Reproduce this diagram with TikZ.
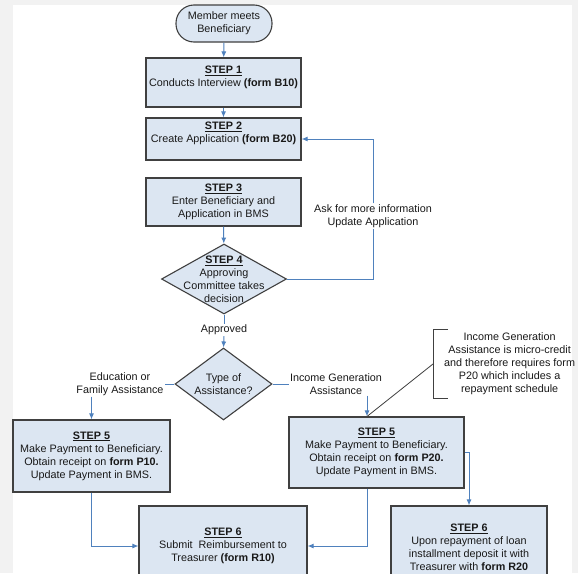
\documentclass[tikz,border=0pt]{standalone}
\usepackage{fontspec}
\setmainfont{Liberation Sans}
\usetikzlibrary{shapes.geometric}
\usetikzlibrary{arrows.meta}
\usetikzlibrary{calc}

\definecolor{boxfill}{HTML}{DCE6F2}
\definecolor{boxline}{HTML}{404040}
\definecolor{flowblue}{HTML}{4F81BD}
\definecolor{pagegray}{HTML}{F2F2F2}

\begin{document}
\begin{tikzpicture}[x=1pt, y=-1pt,
  every node/.style={font=\fontsize{10.8}{13}\selectfont, align=center, text=black!90},
  stepbox/.style={draw=boxline, fill=boxfill, line width=1.1pt, minimum width=155pt, inner sep=2pt},
  decision/.style={diamond, draw=boxline, fill=boxfill, line width=1.1pt, inner sep=0pt},
  flow/.style={draw=flowblue, line width=1pt, -{Latex[length=6pt,width=5pt]}},
  link/.style={draw=flowblue, line width=1pt},
  notebr/.style={draw=boxline, line width=0.8pt},
  tag/.style={fill=white, inner sep=1pt}]

  %page
  \useasboundingbox (0,0) rectangle (578,573);
  \fill[pagegray] (0,0) rectangle (578,573);
  \fill[white] (13,5) rectangle (572,573);

  %main column
  \node[stepbox, rounded corners=18pt, minimum width=96pt, minimum height=37pt] (start) at (224,23.5) {Member meets\\Beneficiary};
  \node[stepbox, minimum height=49pt] (step1) at (223.5,82.5) {\underline{\textbf{STEP 1}}\\Conducts Interview \textbf{(form B10)}\\\mbox{}};
  \node[stepbox, minimum height=42pt] (step2) at (223.5,139) {\underline{\textbf{STEP 2}}\\Create Application \textbf{(form B20)}\\\mbox{}};
  \node[stepbox, minimum height=48pt] (step3) at (223.5,202) {\underline{\textbf{STEP 3}}\\Enter Beneficiary and\\Application in BMS};

  \node[decision, minimum width=125pt, minimum height=70pt] (step4) at (224,279) {};
  \node (step4txt) at (224,279) {\underline{\textbf{STEP 4}}\\Approving\\Committee takes\\decision};

  \node[decision, minimum width=97pt, minimum height=72pt] (type) at (223.5,384) {};
  \node (typetxt) at (223.5,384) {Type of\\Assistance?};

  %payments
  \node[stepbox, minimum width=157pt, minimum height=72pt] (pay1) at (91.5,456) {\underline{\textbf{STEP 5}}\\Make Payment to Beneficiary.\\Obtain receipt on \textbf{form P10.}\\Update Payment in BMS.};
  \node[stepbox, minimum width=175pt, minimum height=71pt] (pay2) at (376.5,452.5) {\underline{\textbf{STEP 5}}\\Make Payment to Beneficiary.\\Obtain receipt on \textbf{form P20.}\\Update Payment in BMS.};
  \coordinate (p2in) at ([xshift=-9.5pt]pay2.north);
  \coordinate (p2out) at ([xshift=-9.5pt]pay2.south);

  %reimbursement
  \node[stepbox, minimum width=168pt, minimum height=80pt] (step6a) at (223,546) {\underline{\textbf{STEP 6}}\\Submit\ \ Reimbursement to\\Treasurer \textbf{(form R10)}};
  \node[stepbox, minimum width=156pt, minimum height=82pt] (step6b) at (469,547) {\underline{\textbf{STEP 6}}\\Upon repayment of loan\\installment deposit it with\\Treasurer with \textbf{form R20}};

  %labels
  \node[tag] (askinfo) at (373,216) {Ask for more information\\Update Application};
  \node[tag] (ok) at (224,330) {Approved};
  \node[tag] (edu) at (120,384) {Education or\\Family Assistance};
  \node[tag] (inc) at (336,384) {Income Generation\\Assistance};
  \node[anchor=west, inner xsep=11pt, minimum height=68pt] (note) at (433,364) {Income Generation\\Assistance is micro-credit\\and therefore requires form\\P20 which includes a\\repayment schedule};

  %connectors
  \draw[flow] (start) -- (step1);
  \draw[flow] (step1) -- (step2);
  \draw[flow] (step3) -- (step4);
  \draw[link] (step4.east) -| (askinfo.south);
  \draw[flow] (askinfo.north) |- (step2.east);
  \draw[link] (step4.south) -- (ok.north);
  \draw[flow] (ok.south) -- (type.north);
  \draw[link] (type.west) -- (edu.east);
  \draw[flow] (edu.south -| pay1.north) -- (pay1.north);
  \draw[link] (type.east) -- (inc.west);
  \draw[flow] (inc.south -| p2in) -- (p2in);
  \draw[flow] (pay1.south) |- (step6a.west);
  \draw[flow] (p2out) |- (step6a.east);
  \draw[flow] (pay2.east) -| (step6b.north);

  %note bracket
  \draw[notebr] ([xshift=15pt]note.north west) -- (note.north west) -- (note.south west) -- ([xshift=15pt]note.south west);
  \draw[notebr] (note.west) -- (p2in);

\end{tikzpicture}
\end{document}
